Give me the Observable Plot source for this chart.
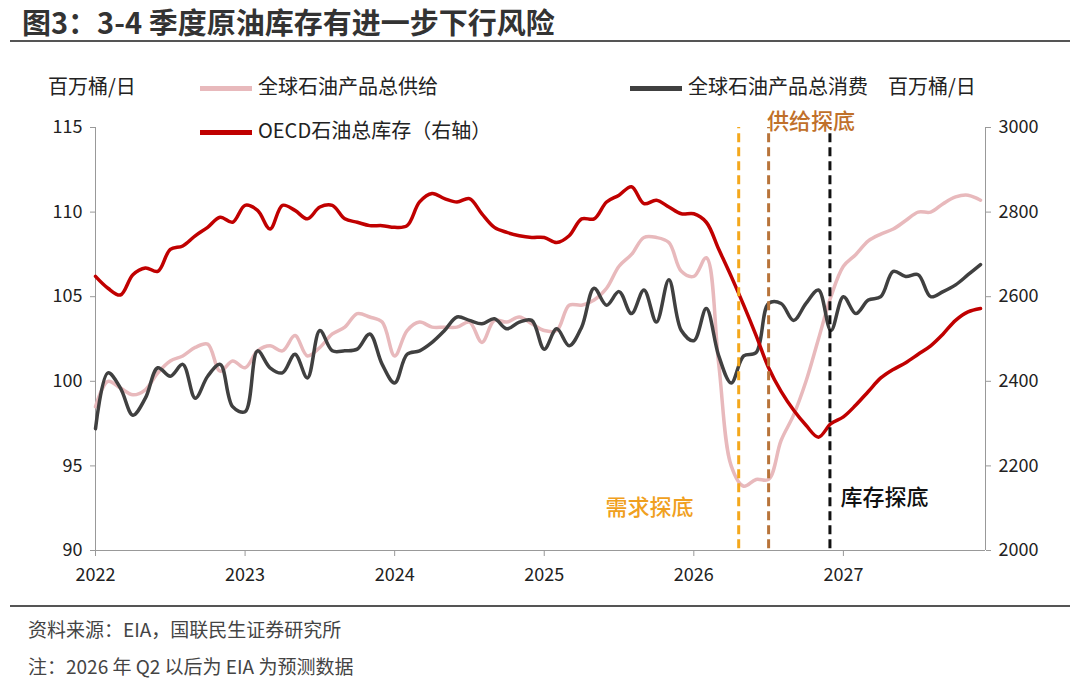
<!DOCTYPE html>
<html><head><meta charset="utf-8">
<script src="https://cdn.jsdelivr.net/npm/d3@7"></script>
<script src="https://cdn.jsdelivr.net/npm/@observablehq/plot@0.6"></script>
<style>
body{margin:0;width:1080px;height:690px;background:#fff;font-family:"Noto Sans CJK SC","Noto Sans",sans-serif;position:relative;overflow:hidden}
#title{position:absolute;left:22px;top:0px;font-size:29px;font-weight:bold;color:#333}
#tline{position:absolute;left:10px;right:10px;top:40px;border-top:2px solid #555}
#chart{position:absolute;left:0;top:45px}
.lab{position:absolute;font-size:20px;color:#222;white-space:nowrap}
.sw{display:inline-block;width:52px;height:5px;vertical-align:middle;margin-right:6px}
#fline{position:absolute;left:10px;right:10px;top:605px;border-top:2px solid #555}
.foot{position:absolute;left:28px;font-size:19px;color:#444}
</style></head><body>
<div id="title">图3：3-4 季度原油库存有进一步下行风险</div>
<div id="tline"></div>
<div id="chart"></div>
<div class="lab" style="left:48px;top:71px">百万桶/日</div>
<div class="lab" style="left:200px;top:71px"><span class="sw" style="background:#e8b9bc"></span>全球石油产品总供给</div>
<div class="lab" style="left:630px;top:71px"><span class="sw" style="background:#404040"></span>全球石油产品总消费</div>
<div class="lab" style="left:888px;top:71px">百万桶/日</div>
<div class="lab" style="left:200px;top:115px"><span class="sw" style="background:#c00000"></span>OECD石油总库存（右轴）</div>
<div id="fline"></div>
<div class="foot" style="top:615px">资料来源：EIA，国联民生证券研究所</div>
<div class="foot" style="top:652px">注：2026 年 Q2 以后为 EIA 为预测数据</div>
<script>
const startYear = 2022;
const supply = [
98.5,100.0,99.6,99.2,99.5,100.5,101.2,101.5,102.0,102.2,100.6,101.2,
100.8,101.8,102.1,101.8,102.7,101.5,102.0,102.8,103.2,104.0,103.8,103.5,
101.5,103.0,103.5,103.2,103.2,103.2,103.5,102.3,103.6,103.5,103.8,103.4,
103.0,103.0,104.5,104.5,104.8,105.5,106.8,107.5,108.5,108.5,108.2,106.5,
106.2,107.3,101.0,95.0,93.8,94.2,94.2,96.5,98.0,100.0,102.5,105.0,
106.8,107.5,108.3,108.7,109.0,109.5,110.0,110.0,110.5,110.9,111.0,110.7];
const consumption = [
97.2,100.5,99.6,98.0,99.0,100.8,100.3,101.0,99.0,100.3,101.0,98.5,
98.2,101.8,100.8,100.5,101.6,100.2,103.0,101.8,101.8,101.9,102.8,101.0,
99.9,101.6,101.8,102.3,103.0,103.8,103.6,103.4,103.7,103.1,103.5,103.6,
101.9,103.1,102.1,103.2,105.5,104.5,105.3,104.0,105.4,103.5,106.0,103.0,
102.4,104.3,101.5,99.9,101.5,101.7,104.6,104.6,103.6,104.6,105.4,103.0,
105.0,104.0,104.8,105.0,106.5,106.2,106.3,105.0,105.3,105.7,106.3,106.9];
const oecdStock = [
2648,2620,2604,2652,2668,2660,2712,2720,2744,2764,2788,2776,
2816,2804,2760,2816,2804,2784,2812,2816,2784,2776,2768,2768,
2764,2768,2824,2844,2832,2824,2832,2796,2764,2752,2744,2740,
2740,2728,2744,2784,2784,2824,2840,2860,2820,2828,2812,2796,
2796,2776,2712,2648,2580,2508,2432,2376,2332,2296,2268,2300,
2316,2344,2376,2408,2428,2444,2464,2484,2512,2544,2564,2572];
const leftTicks = [90,95,100,105,110,115];
const rightTicks = [2000,2200,2400,2600,2800,3000];
const yearTicks = [2022,2023,2024,2025,2026,2027];
const markers = [
 {x:2026.30, color:"#f4a81d"},
 {x:2026.50, color:"#b8743a"},
 {x:2026.91, color:"#111111"}];
const notes = [
 {x:2025.41, y:92.5, text:"需求探底", color:"#f0a020"},
 {x:2026.49, y:115.3, text:"供给探底", color:"#c0702a"},
 {x:2026.98, y:93.1, text:"库存探底", color:"#111111"}];

const toLeft = v => 90 + (v - 2000) / 40;
const data = supply.map((s,i)=>({t:startYear+i/12, s, c:consumption[i], o:toLeft(oecdStock[i])}));

const plot = Plot.plot({
  width:1080, height:555,
  marginLeft:95, marginRight:95, marginTop:82, marginBottom:50,
  style:{fontFamily:"'Noto Sans CJK SC',sans-serif", fontSize:"17px", color:"#222"},
  x:{domain:[2022,2027.95]},
  y:{domain:[90,115]},
  marks:[
    Plot.ruleX([2022],{stroke:"#999"}),
    Plot.ruleX([2027.95],{stroke:"#999"}),
    Plot.ruleY([90],{stroke:"#999"}),
    Plot.axisY(leftTicks,{anchor:"left", tickSize:5, stroke:"#999", label:null, fontSize:18, tickPadding:8}),
    Plot.axisY(rightTicks.map(toLeft),{anchor:"right", tickSize:5, stroke:"#999", label:null, fontSize:18, tickPadding:8,
      tickFormat:(d,i)=>String(rightTicks[i])}),
    Plot.axisX(yearTicks,{tickSize:6, stroke:"#999", label:null, tickFormat:d=>String(d), fontSize:18, tickPadding:12}),
    Plot.line(data,{x:"t",y:"s",stroke:"#e8b9bc",strokeWidth:3.5,curve:"catmull-rom"}),
    Plot.line(data,{x:"t",y:"c",stroke:"#404040",strokeWidth:3.5,curve:"catmull-rom"}),
    Plot.line(data,{x:"t",y:"o",stroke:"#c00000",strokeWidth:3.5,curve:"catmull-rom"}),
    Plot.ruleX(markers,{x:"x",y1:90.1,y2:115,stroke:"color",strokeWidth:3,strokeDasharray:"9,5"}),
    Plot.text(notes,{x:"x",y:"y",text:"text",fill:"color",fontSize:22,fontWeight:500,textAnchor:"start"})
  ]
});
document.getElementById("chart").appendChild(plot);
</script>
</body></html>
